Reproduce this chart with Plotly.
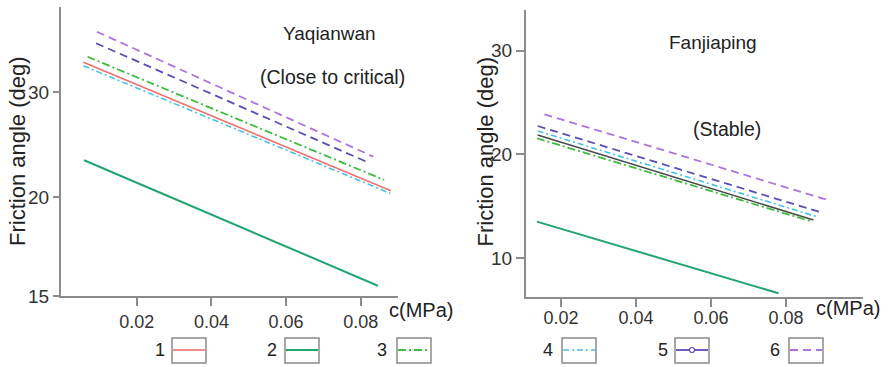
import plotly.graph_objects as go

W, H = 891, 367

# ---------------- data ----------------
series_names = ["1", "2", "3", "4", "5", "6"]

# Yaqianwan (left panel): start/end of each line
yq_x1 = [0.0057, 0.0881]; yq_y1 = [32.83, 20.60]
yq_x2 = [0.0059, 0.0846]; yq_y2 = [23.50, 11.55]
yq_x3 = [0.0068, 0.0863]; yq_y3 = [33.36, 21.62]
yq_x4 = [0.0057, 0.0879]; yq_y4 = [32.50, 20.35]
yq_x5 = [0.0091, 0.0825]; yq_y5 = [34.64, 23.21]
yq_x6 = [0.0093, 0.0834]; yq_y6 = [35.74, 23.84]

# Fanjiaping (right panel)
fj_x1 = [0.0138, 0.0873]; fj_y1 = [21.87, 13.69]
fj_x2 = [0.0136, 0.0780]; fj_y2 = [13.53, 6.63]
fj_x3 = [0.0136, 0.0869]; fj_y3 = [21.56, 13.53]
fj_x4 = [0.0138, 0.0882]; fj_y4 = [22.26, 14.01]
fj_x5 = [0.0138, 0.0896]; fj_y5 = [22.74, 14.39]
fj_x6 = [0.0156, 0.0911]; fj_y6 = [23.87, 15.62]

x_tickvals = [0.02, 0.04, 0.06, 0.08]
x_ticktext = ["0.02", "0.04", "0.06", "0.08"]
yq_tickvals = [10.571, 20, 30]
yq_ticktext = ["15", "20", "30"]
fj_tickvals = [10, 20, 30]
fj_ticktext = ["10", "20", "30"]

# ---------------- styles ----------------
colors = ["#F07070", "#22A56E", "#3DBB3D", "#45C0E6", "#5A4EB5", "#AE74DE"]
fj_color1 = "#4a4a4a"
dashes = ["solid", "solid", "8px,3px,2px,3px", "6px,3px,2px,3px", "8px,5px", "8px,5px"]
widths = [1.6, 2.0, 1.8, 1.6, 1.8, 1.8]
FONT = "Liberation Sans, Arial, sans-serif"
AX = "#8c8c8c"

fig = go.Figure()

yq = [(yq_x1, yq_y1), (yq_x2, yq_y2), (yq_x3, yq_y3),
      (yq_x4, yq_y4), (yq_x5, yq_y5), (yq_x6, yq_y6)]
fj = [(fj_x1, fj_y1), (fj_x2, fj_y2), (fj_x3, fj_y3),
      (fj_x4, fj_y4), (fj_x5, fj_y5), (fj_x6, fj_y6)]

for i, (xs, ys) in enumerate(yq):
    fig.add_trace(go.Scatter(x=xs, y=ys, mode="lines", name=series_names[i],
                             line=dict(color=colors[i], dash=dashes[i], width=widths[i]),
                             xaxis="x", yaxis="y", showlegend=False))
for i, (xs, ys) in enumerate(fj):
    c = fj_color1 if i == 0 else colors[i]
    fig.add_trace(go.Scatter(x=xs, y=ys, mode="lines", name=series_names[i],
                             line=dict(color=c, dash=dashes[i], width=widths[i]),
                             xaxis="x2", yaxis="y2", showlegend=False))

def px(x):
    return x / W

def py(y):
    return 1 - y / H

axis_common = dict(showline=True, linecolor=AX, linewidth=2, ticks="outside",
                   tickcolor=AX, tickwidth=1.5, showgrid=False, zeroline=False,
                   automargin=False)

fig.update_layout(
    width=W, height=H, autosize=False,
    margin=dict(l=0, r=0, t=0, b=0, pad=0, autoexpand=False),
    showlegend=False,
    paper_bgcolor="white", plot_bgcolor="white",
    xaxis=dict(domain=[px(61), px(398)], range=[-0.0003, 0.0900], anchor="y",
               tickvals=x_tickvals, ticktext=x_ticktext, ticklen=8,
               ticklabelstandoff=0, tickfont=dict(family=FONT, color="#333", size=18),
               **axis_common),
    yaxis=dict(domain=[py(296), py(7)], range=[10.571, 38.095], anchor="x",
               tickvals=yq_tickvals, ticktext=yq_ticktext, ticklen=6,
               tickfont=dict(family=FONT, color="#333", size=19), **axis_common),
    xaxis2=dict(domain=[px(526), px(863)], range=[0.0107, 0.1005], anchor="y2",
                tickvals=x_tickvals, ticktext=x_ticktext, ticklen=8,
                ticklabelstandoff=-5, tickfont=dict(family=FONT, color="#333", size=18),
                **axis_common),
    yaxis2=dict(domain=[py(297), py(10)], range=[6.275, 33.91], anchor="x2",
                tickvals=fj_tickvals, ticktext=fj_ticktext, ticklen=8,
                ticklabelstandoff=0,
                tickfont=dict(family=FONT, color="#333", size=19), **axis_common),
)

ann = []
def text(x, y, s, size, angle=0, xanchor="center"):
    ann.append(dict(x=px(x), y=py(y), xref="paper", yref="paper", text=s,
                    showarrow=False, textangle=angle, xanchor=xanchor, yanchor="middle",
                    font=dict(family=FONT, size=size, color="#222")))

text(329, 33, "Yaqianwan", 19)
text(332, 77, "(Close to critical)", 19.5)
text(712.7, 43, "Fanjiaping", 19)
text(727.3, 129, "(Stable)", 19.5)
text(17, 151, "Friction angle (deg)", 22, angle=-90)
text(485, 151.5, "Friction angle (deg)", 22, angle=-90)
text(421, 310, "c(MPa)", 20)
text(848, 308, "c(MPa)", 20)

# legend: number, grey box, line sample
leg_num_x = [160, 272, 382, 548, 663, 775]
leg_box_x = [172, 285, 397, 562, 675, 789]
box_w, box_top, box_bot, leg_y = 34, 338, 363, 350
shapes = []
for i in range(6):
    text(leg_num_x[i], leg_y, series_names[i], 18)
    x0 = leg_box_x[i]
    shapes.append(dict(type="rect", xref="paper", yref="paper",
                       x0=px(x0), x1=px(x0 + box_w), y0=py(box_bot), y1=py(box_top),
                       line=dict(color="#8a8a8a", width=1.5)))
    shapes.append(dict(type="line", xref="paper", yref="paper",
                       x0=px(x0 + 1), x1=px(x0 + box_w - 1), y0=py(leg_y), y1=py(leg_y),
                       line=dict(color=colors[i], width=widths[i] if i != 4 else 1.8,
                                 dash=dashes[i] if i != 4 else "solid")))
    if i == 4:
        cx = x0 + box_w / 2
        shapes.append(dict(type="circle", xref="paper", yref="paper",
                           x0=px(cx - 2.5), x1=px(cx + 2.5), y0=py(leg_y + 2.5), y1=py(leg_y - 2.5),
                           line=dict(color=colors[i], width=1.2), fillcolor="white"))

fig.update_layout(annotations=ann, shapes=shapes)
fig.write_html("out.html")
